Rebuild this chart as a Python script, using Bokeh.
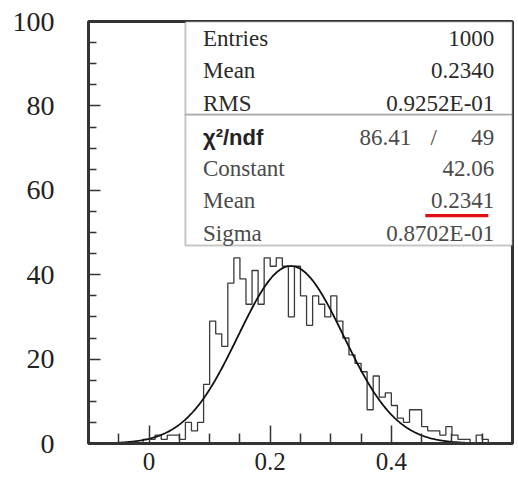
import numpy as np
from bokeh.plotting import figure
from bokeh.models import (Range1d, FixedTicker, PrintfTickFormatter, Label,
                          BoxAnnotation)
from bokeh.embed import file_html
from bokeh.resources import INLINE

# ---------------- data ----------------
bin_width = 0.01
bin_left = [round(-0.05 + 0.01 * i, 2) for i in range(61)]  # -0.05 ... 0.55
counts = [0, 0, 0, 0, 1,
          1, 2, 1, 2, 2, 1, 5, 3, 5, 14,
          29, 26, 23, 38, 44, 39, 33, 41, 33, 44,
          42, 44, 42, 30, 42, 35, 28, 35, 33, 30,
          35, 29, 25, 21, 19, 17, 8, 16, 11, 12,
          9, 6, 5, 8, 8, 4, 3, 3, 2, 4,
          2, 1, 1, 0, 2, 1]

stat_labels = ["Entries", "Mean", "RMS"]
stat_values = ["1000", "0.2340", "0.9252E-01"]
fit_labels = ["Constant", "Mean", "Sigma"]
fit_values = ["42.06", "0.2341", "0.8702E-01"]
chi2_value = "86.41"
ndf_value = "49"

fit_constant = 42.06
fit_mean = 0.2341
fit_sigma = 0.08702

x_ticks = [0, 0.2, 0.4]
x_minor = [-0.05, 0.05, 0.1, 0.15, 0.25, 0.3, 0.35, 0.45, 0.5, 0.55]
y_ticks = [0, 20, 40, 60, 80, 100]
y_minor = [v for v in range(5, 100, 5) if v % 20]

# ---------------- figure ----------------
p = figure(width=518, height=480, output_backend="svg", toolbar_location=None,
           x_range=Range1d(-0.1, 0.6), y_range=Range1d(0, 100),
           min_border_left=88, min_border_top=21, min_border_right=6,
           min_border_bottom=37)
p.background_fill_color = "white"
p.border_fill_color = "white"
p.outline_line_color = "#333333"
p.outline_line_width = 3
p.xgrid.visible = False
p.ygrid.visible = False

# histogram outline
xs, ys = [bin_left[0]], [0]
for lo, c in zip(bin_left, counts):
    xs += [lo, lo + bin_width]
    ys += [c, c]
xs.append(bin_left[-1] + bin_width)
ys.append(0)
p.line(xs, ys, line_color="#3a3a3a", line_width=1.3)

# gaussian fit curve (from displayed fit parameters)
xf = np.linspace(bin_left[0], bin_left[-1] + bin_width, 400)
yf = fit_constant * np.exp(-0.5 * ((xf - fit_mean) / fit_sigma) ** 2)
p.line(xf, yf, line_color="#111111", line_width=1.8)

# axes
serif = "Liberation Serif"
xa = p.xaxis[0]
xa.ticker = FixedTicker(ticks=x_ticks, minor_ticks=x_minor)
xa.formatter = PrintfTickFormatter(format="%g")
xa.major_tick_in = 18
xa.major_tick_out = 0
xa.minor_tick_in = 10
xa.minor_tick_out = 0
xa.major_label_standoff = 9
xa.major_label_text_font = serif
xa.major_label_text_font_size = "25px"
xa.major_label_text_color = "#222222"
xa.axis_line_width = 3
xa.axis_line_color = "#333333"
xa.major_tick_line_color = "#333333"
xa.minor_tick_line_color = "#333333"
xa.major_tick_line_width = 1.5
xa.minor_tick_line_width = 1.5

ya = p.yaxis[0]
ya.ticker = FixedTicker(ticks=y_ticks, minor_ticks=y_minor)
ya.major_tick_in = 12
ya.major_tick_out = 0
ya.minor_tick_in = 8
ya.minor_tick_out = 0
ya.major_label_standoff = 34
ya.major_label_text_font = serif
ya.major_label_text_font_size = "28px"
ya.major_label_text_color = "#222222"
ya.axis_line_width = 3
ya.axis_line_color = "#333333"
ya.major_tick_line_color = "#333333"
ya.minor_tick_line_color = "#333333"
ya.major_tick_line_width = 1.5
ya.minor_tick_line_width = 1.5

# ---------------- stats box ----------------
box_left, box_right = 0.060, 0.6
box_top, box_sep, box_bottom = 100, 77.9, 46.9
p.add_layout(BoxAnnotation(left=box_left, right=box_right, top=box_top,
                           bottom=box_sep, fill_color="white", fill_alpha=1,
                           line_color="#444444", line_width=2))
p.add_layout(BoxAnnotation(left=box_left, right=box_right, top=box_sep,
                           bottom=box_bottom, fill_color="white", fill_alpha=1,
                           line_color="#444444", line_width=2))

lab_x = 0.089
val_x = 0.570
fs = "23px"
top_rows = [95.9, 88.4, 80.5]
bot_rows = [65.1, 57.6, 49.7]
for t, v, y in zip(stat_labels, stat_values, top_rows):
    p.add_layout(Label(x=lab_x, y=y, text=t, text_font=serif,
                       text_font_size=fs, text_color="#2a2a2a",
                       text_baseline="middle"))
    p.add_layout(Label(x=val_x, y=y, text=v, text_font=serif,
                       text_font_size=fs, text_color="#2a2a2a",
                       text_baseline="middle", text_align="right"))

chi_y = 72.6
p.add_layout(Label(x=lab_x, y=chi_y, text="χ²/ndf", text_font="Liberation Sans",
                   text_font_style="bold", text_font_size="22px",
                   text_color="#222222", text_baseline="middle"))
p.add_layout(Label(x=0.433, y=chi_y, text=chi2_value, text_font=serif,
                   text_font_size=fs, text_color="#4a4a4a",
                   text_baseline="middle", text_align="right"))
p.add_layout(Label(x=0.470, y=chi_y, text="/", text_font=serif,
                   text_font_size=fs, text_color="#4a4a4a",
                   text_baseline="middle", text_align="center"))
p.add_layout(Label(x=val_x, y=chi_y, text=ndf_value, text_font=serif,
                   text_font_size=fs, text_color="#4a4a4a",
                   text_baseline="middle", text_align="right"))

for t, v, y in zip(fit_labels, fit_values, bot_rows):
    p.add_layout(Label(x=lab_x, y=y, text=t, text_font=serif,
                       text_font_size=fs, text_color="#4a4a4a",
                       text_baseline="middle"))
    p.add_layout(Label(x=val_x, y=y, text=v, text_font=serif,
                       text_font_size=fs, text_color="#4a4a4a",
                       text_baseline="middle", text_align="right"))

# red underline under fitted mean
p.add_layout(BoxAnnotation(left=0.456, right=0.560, bottom=53.6, top=54.4,
                           fill_color="#e01010", fill_alpha=1, line_alpha=0))

open("out.html", "w").write(file_html(p, INLINE))
